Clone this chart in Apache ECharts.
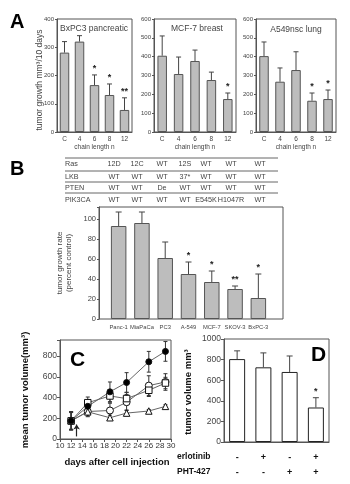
<!DOCTYPE html>
<html>
<head>
<meta charset="utf-8">
<script src="https://cdn.jsdelivr.net/npm/echarts@6/dist/echarts.min.js"></script>
<style>
html, body { margin: 0; padding: 0; background: #fff; }
#chart { width: 350px; height: 484px; }
</style>
</head>
<body>
<div id="chart"></div>
<script>
// panel A: tumor growth vs chain length
var aCats = ['C', '4', '6', '8', '12'];
var aBxpc3 = [281, 320, 166, 131, 78];
var aBxpc3Err = [320, 341, 202, 170, 121];
var aBxpc3Sig = ['', '', '*', '*', '**'];
var aMcf7 = [405, 308, 377, 276, 175];
var aMcf7Err = [510, 398, 435, 318, 207];
var aMcf7Sig = ['', '', '', '', '*'];
var aA549 = [403, 267, 329, 166, 175];
var aA549Err = [478, 340, 426, 207, 223];
var aA549Sig = ['', '', '', '*', '*'];

// panel B: growth rate by cell line + mutation table
var bCats = ['Panc-1', 'MiaPaCa', 'PC3', 'A-549', 'MCF-7', 'SKOV-3', 'BxPC-3'];
var bRate = [93, 96, 61, 45, 37, 30, 21];
var bRateErr = [107, 107, 77, 57, 48, 33, 45];
var bSig = ['', '', '', '*', '*', '**', '*'];
var tableRas = ['12D', '12C', 'WT', '12S', 'WT', 'WT', 'WT'];
var tableLkb = ['WT', 'WT', 'WT', '37*', 'WT', 'WT', 'WT'];
var tablePten = ['WT', 'WT', 'De', 'WT', 'WT', 'WT', 'WT'];
var tablePik3ca = ['WT', 'WT', 'WT', 'WT', 'E545K', 'H1047R', 'WT'];

// panel C: mean tumor volume over time
var cDays = [12, 15, 19, 22, 26, 29];
var cFilled = [175, 315, 455, 545, 745, 845];
var cFilledErr = [90, 35, 95, 95, 100, 95];
var cCircle = [175, 265, 275, 355, 515, 550];
var cCircleErr = [85, 50, 70, 75, 95, 80];
var cSquare = [175, 350, 415, 390, 470, 540];
var cSquareErr = [85, 55, 60, 60, 60, 55];
var cTriangle = [175, 262, 205, 250, 270, 315];
var cTriangleErr = [80, 40, 25, 25, 15, 15];
var cArrow = [13, 25, 140];

// panel D: combination treatment
var dVolume = [805, 725, 680, 335];
var dVolumeErr = [885, 865, 835, 430];
var dSig = ['', '', '', '*'];
var dErlotinib = ['-', '+', '-', '+'];
var dPht = ['-', '-', '+', '+'];

var FONT = '"Liberation Sans", Arial, sans-serif';
var chart = echarts.init(document.getElementById('chart'));

function barErr(idx, vals, tops, sig, cap) {
	return {
		type: 'custom', xAxisIndex: idx, yAxisIndex: idx, z: 5,
		data: vals.map(function(v, i) { return [i, v, tops[i]]; }),
		renderItem: function(params, api) {
			var b = api.coord([api.value(0), api.value(1)]);
			var t = api.coord([api.value(0), api.value(2)]);
			return {
				type: 'group',
				children: [
					{ type: 'line', shape: { x1: b[0], y1: b[1], x2: t[0], y2: t[1] }, style: { stroke: '#444', lineWidth: 1 } },
					{ type: 'line', shape: { x1: t[0] - cap, y1: t[1], x2: t[0] + cap, y2: t[1] }, style: { stroke: '#444', lineWidth: 1 } },
					{ type: 'text', style: { text: sig[params.dataIndex], x: t[0], y: t[1] - 2, align: 'center', verticalAlign: 'bottom',
						fontSize: 9, fontWeight: 'bold', fontFamily: FONT, fill: '#222' } }
				]
			};
		}
	};
}

function lineErr(vals, errs) {
	return {
		type: 'custom', xAxisIndex: 5, yAxisIndex: 5, z: 3,
		data: vals.map(function(v, i) { return [cDays[i], v - errs[i], v + errs[i]]; }),
		renderItem: function(params, api) {
			var lo = api.coord([api.value(0), api.value(1)]);
			var hi = api.coord([api.value(0), api.value(2)]);
			var st = { stroke: '#333', lineWidth: 1 };
			return {
				type: 'group',
				children: [
					{ type: 'line', shape: { x1: lo[0], y1: lo[1], x2: hi[0], y2: hi[1] }, style: st },
					{ type: 'line', shape: { x1: lo[0] - 2, y1: lo[1], x2: lo[0] + 2, y2: lo[1] }, style: st },
					{ type: 'line', shape: { x1: hi[0] - 2, y1: hi[1], x2: hi[0] + 2, y2: hi[1] }, style: st }
				]
			};
		}
	};
}

function lineSeries(vals, symbol, size, fill) {
	return {
		type: 'line', xAxisIndex: 5, yAxisIndex: 5, z: 4,
		data: vals.map(function(v, i) { return [cDays[i], v]; }),
		symbol: symbol, symbolSize: size, showAllSymbol: true,
		lineStyle: { color: '#666', width: 1 },
		itemStyle: { color: fill, borderColor: '#111', borderWidth: 1 }
	};
}

function catX(idx, data, opts) {
	var ax = {
		type: 'category', gridIndex: idx, data: data,
		axisLine: { lineStyle: { color: '#555' } }, axisTick: { show: false },
		axisLabel: { fontSize: 6.5, color: '#444', margin: 4, interval: 0, fontFamily: FONT }
	};
	return Object.assign(ax, opts || {});
}

function valY(idx, max, interval, fs, opts) {
	var ax = {
		type: 'value', gridIndex: idx, min: 0, max: max, interval: interval,
		splitLine: { show: false },
		axisLine: { show: true, lineStyle: { color: '#555' } },
		axisTick: { show: true, length: 2, lineStyle: { color: '#555' } },
		axisLabel: { fontSize: fs, color: '#444', margin: 3, fontFamily: FONT,
			formatter: function(v) { return v % interval === 0 ? v : ''; } }
	};
	return Object.assign(ax, opts || {});
}

function txt(text, x, y, size, opts) {
	var o = opts || {};
	return {
		type: 'text', x: x, y: y, rotation: o.rot || 0,
		style: { text: text, x: 0, y: 0, fontSize: size, fontFamily: FONT, fontWeight: o.bold ? 'bold' : 'normal',
			fill: o.color || '#333', align: o.align || 'center', verticalAlign: 'middle', lineHeight: o.lh || size + 1 }
	};
}

function hline(x1, x2, y) {
	return { type: 'line', shape: { x1: x1, y1: y, x2: x2, y2: y }, style: { stroke: '#666', lineWidth: 1 } };
}

var aName = { name: 'chain length n', nameLocation: 'middle', nameGap: 11,
	nameTextStyle: { fontSize: 6.5, color: '#444', fontFamily: FONT } };
var boxGrid = { show: true, backgroundColor: 'transparent', borderColor: '#555', borderWidth: 1 };

// mutation table
var tableCols = [114, 137, 162, 185, 206, 231, 260];
var tableRows = [['Ras', tableRas, 164], ['LKB', tableLkb, 177], ['PTEN', tablePten, 188], ['PIK3CA', tablePik3ca, 200]];
var graphics = [
	txt('A', 10, 22, 20, { bold: true, align: 'left', color: '#000' }),
	txt('B', 10, 169, 20, { bold: true, align: 'left', color: '#000' }),
	txt('C', 70, 360, 21, { bold: true, align: 'left', color: '#000' }),
	txt('D', 311, 355, 21, { bold: true, align: 'left', color: '#000' }),
	txt('BxPC3 pancreatic', 94, 29, 8.5, { color: '#444' }),
	txt('MCF-7 breast', 197, 29, 8.5, { color: '#444' }),
	txt('A549nsc lung', 296, 30, 8.5, { color: '#444' }),
	txt('tumor growth mm\u00b3/10 days', 40, 80, 8.5, { rot: Math.PI / 2, color: '#444' }),
	txt('tumor growth rate\n(percent control)', 64, 263, 8, { rot: Math.PI / 2, color: '#444', lh: 9 }),
	txt('mean tumor volume(mm\u00b3)', 25, 390, 9.5, { rot: Math.PI / 2, bold: true, color: '#111' }),
	txt('days after cell injection', 117, 462, 9.5, { bold: true, color: '#111' }),
	txt('tumor volume mm\u00b3', 188, 392, 9.5, { rot: Math.PI / 2, bold: true, color: '#111' }),
	txt('erlotinib', 177, 457, 8.5, { bold: true, align: 'left', color: '#111' }),
	txt('PHT-427', 177, 472, 8.5, { bold: true, align: 'left', color: '#111' }),
	hline(65, 278, 158), hline(65, 278, 171), hline(65, 278, 182), hline(65, 278, 193)
];
tableRows.forEach(function(r) {
	graphics.push(txt(r[0], 65, r[2], 7.2, { align: 'left', color: '#444' }));
	r[1].forEach(function(v, i) {
		graphics.push(txt(v, tableCols[i], r[2], 7.2, { color: '#444' }));
	});
});

var barStyle = { color: '#bdbdbd', borderColor: '#555', borderWidth: 1 };

var option = {
	animation: false,
	backgroundColor: '#fff',
	textStyle: { fontFamily: FONT },
	grid: [
		Object.assign({ left: 57, top: 19, width: 75, height: 113 }, boxGrid),
		Object.assign({ left: 154, top: 19, width: 82, height: 113 }, boxGrid),
		Object.assign({ left: 256, top: 19, width: 80, height: 113 }, boxGrid),
		Object.assign({ left: 99, top: 207, width: 184, height: 112 }, boxGrid),
		{ left: 107, top: 207, width: 163, height: 112 },
		Object.assign({ left: 60, top: 340, width: 111, height: 99 }, boxGrid),
		Object.assign({ left: 224, top: 339, width: 105, height: 103 }, boxGrid)
	],
	xAxis: [
		catX(0, aCats, aName),
		catX(1, aCats, aName),
		catX(2, aCats, aName),
		catX(3, [''], { show: false }),
		catX(4, bCats, { axisLine: { show: false }, axisLabel: { fontSize: 5.8, color: '#444', margin: 5, interval: 0, fontFamily: FONT } }),
		{ type: 'value', gridIndex: 5, min: 10, max: 30, interval: 2, splitLine: { show: false },
			axisLine: { lineStyle: { color: '#555' } }, axisTick: { length: 3, lineStyle: { color: '#555' } },
			axisLabel: { fontSize: 8, color: '#333', margin: 3, fontFamily: FONT } },
		catX(6, dErlotinib, { axisLabel: { fontSize: 9, fontWeight: 'bold', color: '#111', margin: 8, lineHeight: 15, interval: 0, fontFamily: FONT,
			formatter: function(v, i) { return dErlotinib[i] + '\n' + dPht[i]; } } })
	],
	yAxis: [
		valY(0, 400, 100, 6),
		valY(1, 600, 100, 6),
		valY(2, 600, 100, 6),
		valY(3, 112, 20, 7.5),
		valY(4, 112, 20, 7.5, { show: false }),
		valY(5, 955, 200, 8.5, { axisTick: { show: true, length: 3, lineStyle: { color: '#555' } } }),
		valY(6, 1000, 200, 8.5, { axisTick: { show: true, length: 3, lineStyle: { color: '#555' } } })
	],
	series: [
		{ type: 'bar', xAxisIndex: 0, yAxisIndex: 0, data: aBxpc3, barWidth: 9.5, itemStyle: barStyle },
		barErr(0, aBxpc3, aBxpc3Err, aBxpc3Sig, 2.5),
		{ type: 'bar', xAxisIndex: 1, yAxisIndex: 1, data: aMcf7, barWidth: 9.5, itemStyle: barStyle },
		barErr(1, aMcf7, aMcf7Err, aMcf7Sig, 2.5),
		{ type: 'bar', xAxisIndex: 2, yAxisIndex: 2, data: aA549, barWidth: 9.5, itemStyle: barStyle },
		barErr(2, aA549, aA549Err, aA549Sig, 2.5),
		{ type: 'bar', xAxisIndex: 4, yAxisIndex: 4, data: bRate, barWidth: 15.5, itemStyle: barStyle },
		barErr(4, bRate, bRateErr, bSig, 3),
		lineErr(cFilled, cFilledErr),
		lineErr(cCircle, cCircleErr),
		lineErr(cSquare, cSquareErr),
		lineErr(cTriangle, cTriangleErr),
		lineSeries(cCircle, 'circle', 7, '#fff'),
		lineSeries(cSquare, 'rect', 6.5, '#fff'),
		lineSeries(cTriangle, 'triangle', 6.5, '#fff'),
		lineSeries(cFilled, 'circle', 6, '#000'),
		{ type: 'line', xAxisIndex: 5, yAxisIndex: 5, data: [], silent: true,
			markLine: { silent: true, symbol: ['none', 'arrow'], symbolSize: 5, label: { show: false },
				lineStyle: { color: '#222', width: 1.2, type: 'solid' },
				data: [[{ coord: [cArrow[0], cArrow[1]] }, { coord: [cArrow[0], cArrow[2]] }]] } },
		{ type: 'bar', xAxisIndex: 6, yAxisIndex: 6, data: dVolume, barWidth: 16,
			itemStyle: { color: '#fff', borderColor: '#222', borderWidth: 1 } },
		barErr(6, dVolume, dVolumeErr, dSig, 3)
	],
	graphic: graphics
};
chart.setOption(option);
</script>
</body>
</html>
